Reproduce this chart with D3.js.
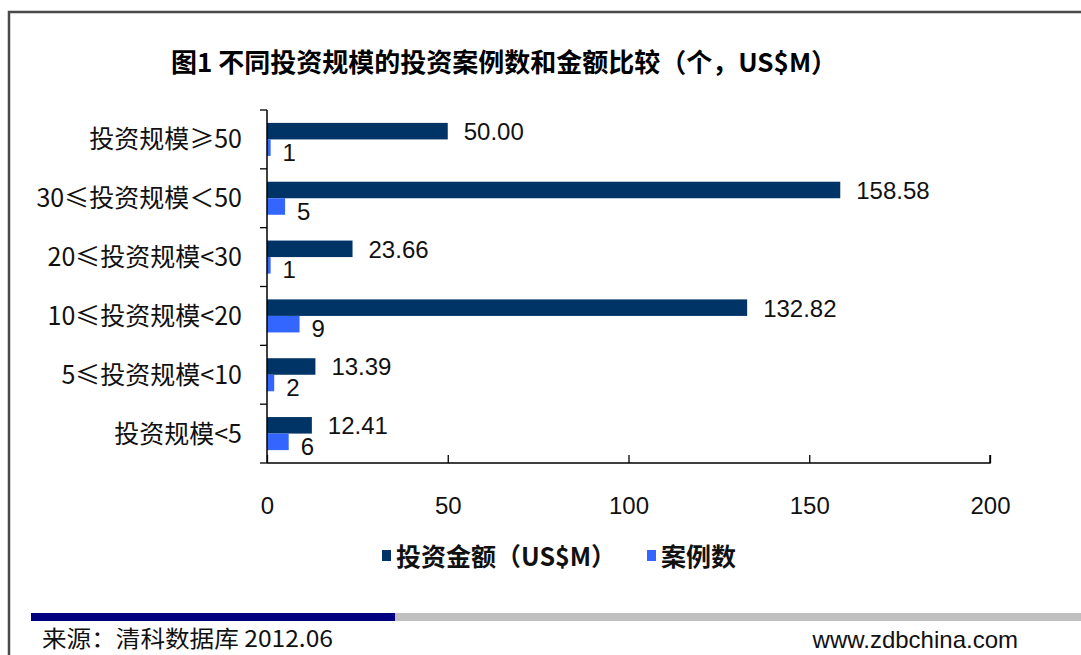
<!DOCTYPE html>
<html>
<head>
<meta charset="utf-8">
<script src="https://cdn.jsdelivr.net/npm/d3@7"></script>
<style>
  html, body { margin: 0; padding: 0; background: #fff; }
  svg { display: block; }
</style>
</head>
<body>
<div id="chart"></div>
<script>
// categories top to bottom, as in the picture
const categories = ["投资规模≥50", "30≤投资规模＜50", "20≤投资规模<30", "10≤投资规模<20", "5≤投资规模<10", "投资规模<5"];
const amounts = [50.00, 158.58, 23.66, 132.82, 13.39, 12.41];   // 投资金额（US$M）
const cases = [1, 5, 1, 9, 2, 6];                                // 案例数
const xTicks = [0, 50, 100, 150, 200];
const seriesNames = ["投资金额（US$M）", "案例数"];

const W = 1081, H = 655;
const DARK = "#003366", LIGHT = "#3366ff";
const CJK = "'Noto Sans CJK SC', 'Noto Sans', sans-serif";
const LAT = "'Liberation Sans', Arial, sans-serif";

const svg = d3.select("#chart").append("svg")
  .attr("width", W).attr("height", H).attr("viewBox", `0 0 ${W} ${H}`);

// outer frame (only top and left edges fall in the picture)
svg.append("path").attr("d", `M9,${H} V12 H${W}`)
  .attr("fill", "none").attr("stroke", "#4a4a4a").attr("stroke-width", 2.5);

svg.append("text")
  .attr("x", 504).attr("y", 72).attr("text-anchor", "middle")
  .attr("font-family", CJK).attr("font-weight", 700).attr("font-size", 26)
  .attr("fill", "#000")
  .text("图1 不同投资规模的投资案例数和金额比较（个，US$M）");

const x = d3.scaleLinear().domain([0, 200]).range([267, 990]);
const y = d3.scaleBand().domain(categories).range([110, 463]);

const sub = d3.scaleBand().domain(["a", "c"]).range([0, y.bandwidth()])
  .paddingInner(0).paddingOuter(0.78);

const g = svg.append("g");

// bars: amount (dark) above, cases (light) below
const rows = categories.map((c, i) => ({ cat: c, amount: amounts[i], cases: cases[i] }));
g.selectAll("rect.amt").data(rows).join("rect").attr("class", "amt")
  .attr("x", x(0)).attr("y", d => y(d.cat) + sub("a"))
  .attr("width", d => x(d.amount) - x(0)).attr("height", sub.bandwidth())
  .attr("fill", DARK);
g.selectAll("rect.cs").data(rows).join("rect").attr("class", "cs")
  .attr("x", x(0)).attr("y", d => y(d.cat) + sub("c"))
  .attr("width", d => x(d.cases) - x(0)).attr("height", sub.bandwidth())
  .attr("fill", LIGHT);

// value labels
g.selectAll("text.amtl").data(rows).join("text").attr("class", "amtl")
  .attr("x", d => x(d.amount) + 16).attr("y", d => y(d.cat) + sub("a") + sub.bandwidth() / 2 + 9)
  .attr("font-family", LAT).attr("font-size", 24).attr("fill", "#111")
  .text(d => d3.format(".2f")(d.amount));
g.selectAll("text.csl").data(rows).join("text").attr("class", "csl")
  .attr("x", d => x(d.cases) + 12).attr("y", d => y(d.cat) + sub("c") + sub.bandwidth() / 2 + 13)
  .attr("font-family", LAT).attr("font-size", 24).attr("fill", "#111")
  .text(d => d.cases);

// value axis along the bottom, ticks pointing up into the plot
const xAxis = g.append("g").attr("transform", `translate(0,${y.range()[1]})`)
  .call(d3.axisBottom(x).tickValues(xTicks).tickSize(-8).tickPadding(34).tickFormat(d3.format("d")));
xAxis.select(".domain").attr("stroke", "#000").attr("stroke-width", 1.5).attr("d", `M${x(0)},0H${x(200)}V-8`);
xAxis.selectAll(".tick line").attr("stroke", "#000").attr("stroke-width", 1.3);
xAxis.selectAll("text").attr("font-family", LAT).attr("font-size", 24).attr("fill", "#111");

// category axis on the left with tick marks at band edges
const yEdges = categories.map(c => y(c)).concat([y.range()[1]]);
const yAxis = g.append("g");
yAxis.append("line").attr("x1", x(0)).attr("x2", x(0)).attr("y1", y.range()[0]).attr("y2", y.range()[1])
  .attr("stroke", "#000").attr("stroke-width", 1.5);
yAxis.selectAll("line.t").data(yEdges).join("line").attr("class", "t")
  .attr("x1", x(0) - 7).attr("x2", x(0)).attr("y1", d => d).attr("y2", d => d)
  .attr("stroke", "#000").attr("stroke-width", 1.3);
yAxis.selectAll("text").data(categories).join("text")
  .attr("x", 242).attr("y", d => y(d) + y.bandwidth() / 2 + 9)
  .attr("text-anchor", "end")
  .attr("font-family", CJK).attr("font-size", 25).attr("fill", "#111")
  .text(d => d);

// legend
const legend = svg.append("g").attr("font-family", CJK).attr("font-weight", 700).attr("font-size", 25);
const legendItems = [{ name: seriesNames[0], color: DARK, x: 382 }, { name: seriesNames[1], color: LIGHT, x: 647 }];
legendItems.forEach(it => {
  legend.append("rect").attr("x", it.x).attr("y", 550).attr("width", 9).attr("height", 11).attr("fill", it.color);
  legend.append("text").attr("x", it.x + 14).attr("y", 566).attr("fill", "#111").text(it.name);
});

// footer band and source line
svg.append("rect").attr("x", 31).attr("y", 613).attr("width", 364).attr("height", 8).attr("fill", "#000080");
svg.append("rect").attr("x", 395).attr("y", 613).attr("width", W - 395).attr("height", 8).attr("fill", "#c0c0c0");
svg.append("text").attr("x", 42).attr("y", 647)
  .attr("font-family", CJK).attr("font-size", 23).attr("fill", "#111")
  .attr("textLength", 291).attr("lengthAdjust", "spacingAndGlyphs")
  .text("来源：清科数据库 2012.06");
svg.append("text").attr("x", 1018).attr("y", 648).attr("text-anchor", "end")
  .attr("font-family", LAT).attr("font-size", 24).attr("fill", "#111")
  .text("www.zdbchina.com");
</script>
</body>
</html>
